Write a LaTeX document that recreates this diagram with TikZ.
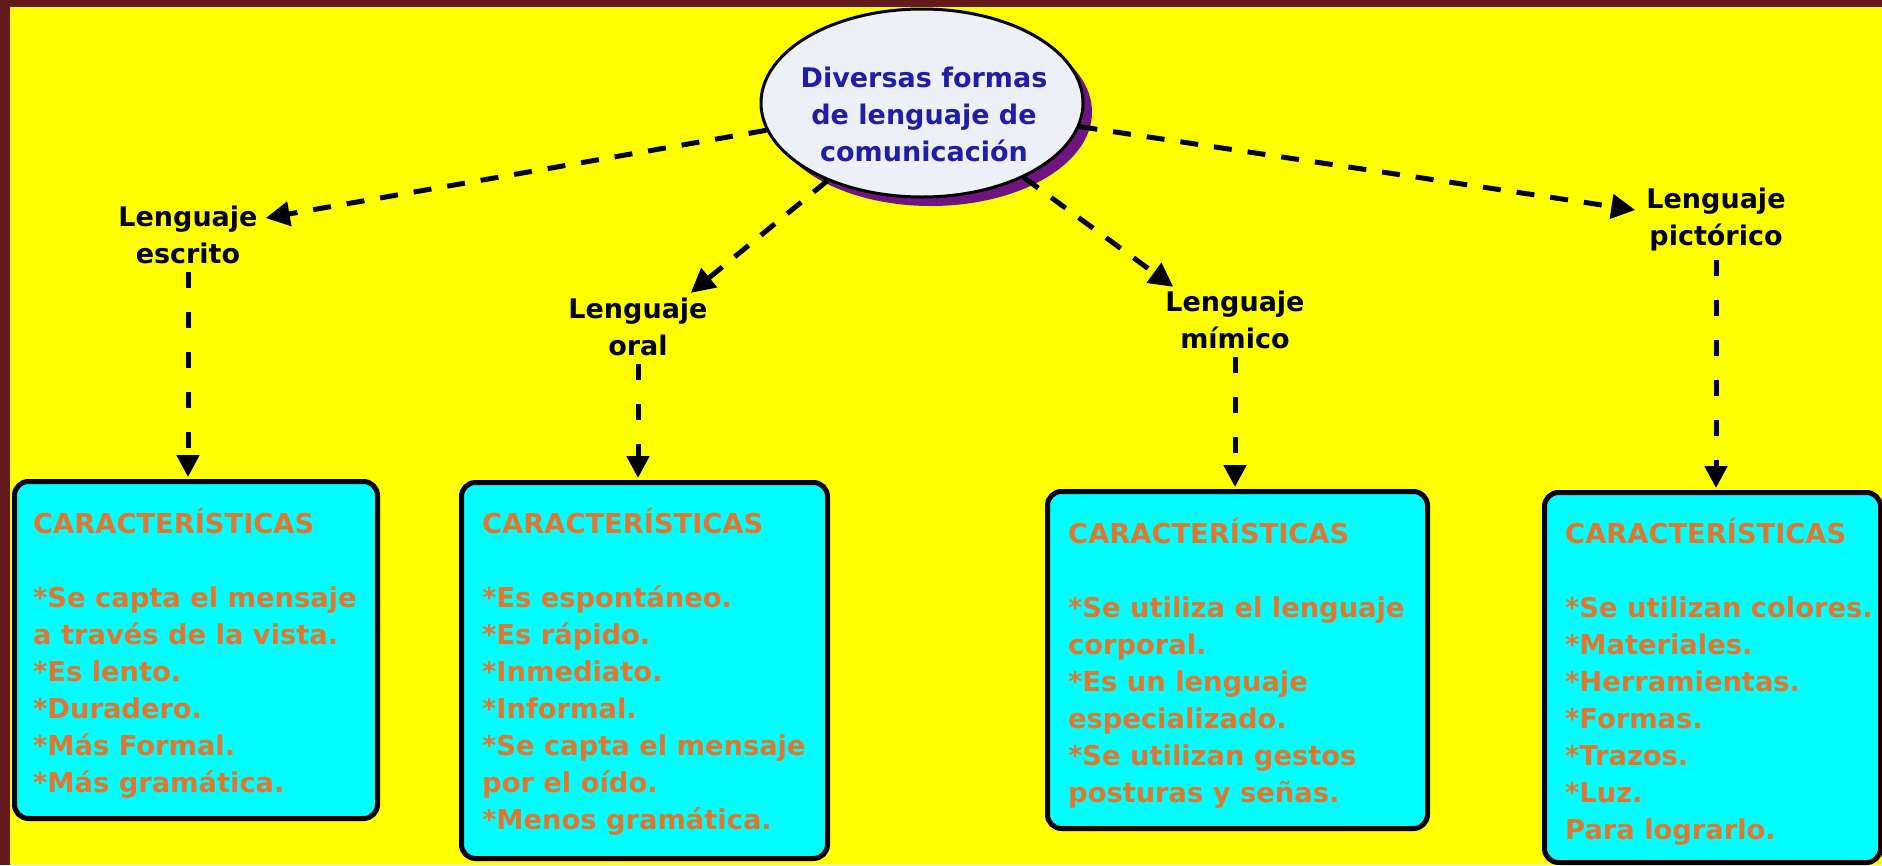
\documentclass[tikz,border=0pt]{standalone}
\usepackage{fontspec}
\setmainfont{DejaVu Sans}
\usetikzlibrary{shapes.geometric,arrows.meta,shadows}
\definecolor{framered}{RGB}{100,26,26}
\definecolor{bgyellow}{RGB}{255,255,0}
\definecolor{boxcyan}{RGB}{0,255,255}
\definecolor{txtorange}{RGB}{226,118,46}
\definecolor{ellfill}{RGB}{238,240,248}
\definecolor{ellblue}{RGB}{30,30,170}
\definecolor{shadowpurple}{RGB}{112,20,130}
\begin{document}
\begin{tikzpicture}[x=1pt,y=-1pt,
  lbl/.style={font=\fontsize{27}{37}\selectfont\bfseries, align=center, inner sep=0pt, text=black},
  charbox/.style={draw=black, line width=5pt, fill=boxcyan, rounded corners=14pt, anchor=north west, inner sep=0pt},
  chartext/.style={font=\fontsize{27.3}{37}\selectfont\bfseries, text=txtorange, align=left, anchor=north west, inner sep=0pt},
  dlink/.style={line width=5pt, dash pattern=on 18pt off 16pt, -{Triangle[length=24pt,width=24pt]}},
  vlink/.style={line width=5pt, dash pattern=on 16pt off 24pt, shorten <=8pt, shorten >=2pt, -{Triangle[length=22pt,width=22pt]}}]
\useasboundingbox (0,0) rectangle (1882,865);
\fill[framered] (0,0) rectangle (1882,865);
\fill[bgyellow] (10,7) rectangle (1882,865);

% central ellipse
\node[ellipse, draw=black, line width=3pt, fill=ellfill, minimum width=322pt, minimum height=188pt, inner sep=0pt,
  drop shadow={shadow xshift=9pt, shadow yshift=-9pt, fill=shadowpurple, opacity=1}] (e) at (922,103) {};
\node[font=\fontsize{27}{37}\selectfont\bfseries, text=ellblue, align=center, inner sep=0pt] (et) at (924,114)
  {Diversas formas\\de lenguaje de\\comunicación};

% labels
\node[lbl] (l1) at (188,235) {Lenguaje\\escrito};
\node[lbl] (l2) at (638,327) {Lenguaje\\oral};
\node[lbl] (l3) at (1235,320) {Lenguaje\\mímico};
\node[lbl] (l4) at (1716,220) {Lenguaje\\pictórico};

% boxes
\node[charbox, minimum width=363pt, minimum height=337pt] (b1) at (12,479) {};
\node[charbox, minimum width=366pt, minimum height=376pt] (b2) at (459,480) {};
\node[charbox, minimum width=380pt, minimum height=337pt] (b3) at (1045,489) {};
\node[charbox, minimum width=336pt, minimum height=370pt] (b4) at (1542,490) {};

\node[chartext] (t1) at (33,508) {CARACTERÍSTICAS\\[37pt]*Se capta el mensaje\\a través de la vista.\\*Es lento.\\*Duradero.\\*Más Formal.\\*Más gramática.};
\node[chartext] (t2) at (482,508) {CARACTERÍSTICAS\\[37pt]*Es espontáneo.\\*Es rápido.\\*Inmediato.\\*Informal.\\*Se capta el mensaje\\por el oído.\\*Menos gramática.};
\node[chartext] (t3) at (1068,518) {CARACTERÍSTICAS\\[37pt]*Se utiliza el lenguaje\\corporal.\\*Es un lenguaje\\especializado.\\*Se utilizan gestos\\posturas y señas.};
\node[chartext] (t4) at (1565,518) {CARACTERÍSTICAS\\[37pt]*Se utilizan colores.\\*Materiales.\\*Herramientas.\\*Formas.\\*Trazos.\\*Luz.\\Para lograrlo.};

% connectors
\draw[dlink] (e) -- ([xshift=8pt,yshift=17pt]l1.east);
\draw[dlink] (e) -- ([xshift=-17pt,yshift=5pt]l2.north east);
\draw[dlink] (e) -- ([xshift=8pt,yshift=4pt]l3.north west);
\draw[dlink] (e) -- ([xshift=-11pt,yshift=10pt]l4.west);

\draw[vlink] (l1.south) -- (l1.south |- b1.north);
\draw[vlink] (l2.south) -- (l2.south |- b2.north);
\draw[vlink] (l3.south) -- (l3.south |- b3.north);
\draw[vlink] (l4.south) -- (l4.south |- b4.north);
\end{tikzpicture}
\end{document}
